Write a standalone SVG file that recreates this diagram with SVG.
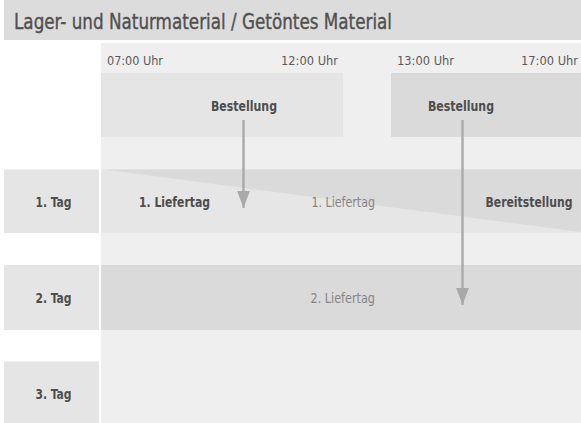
<svg xmlns="http://www.w3.org/2000/svg" width="581" height="423" viewBox="0 0 581 423">
  <style>
    text { font-family: "DejaVu Sans Condensed", "Liberation Sans", sans-serif; }
    .title { font-size: 20.5px; fill: #505050; stroke: #505050; stroke-width: 0.35px; }
    .time { font-size: 12.5px; fill: #5a5a5a; }
    .bold { font-size: 14.5px; font-weight: bold; fill: #4d4d4d; }
    .light { font-size: 14.5px; fill: #858585; }
    .lbl { font-size: 14.5px; font-weight: bold; fill: #4d4d4d; }
    .conn { stroke: #a9a9a9; stroke-width: 2.4; fill: none; }
  </style>
  <defs>
    <marker id="ah" markerUnits="userSpaceOnUse" markerWidth="18" markerHeight="14" viewBox="0 0 18 14" refX="17" refY="7" orient="auto">
      <path d="M0,0.6 L17,7 L0,13.4 Z" fill="#a9a9a9"/>
    </marker>
  </defs>
  <rect x="0" y="0" width="581" height="423" fill="#ffffff"/>

  <g id="title">
    <rect x="4" y="0" width="577" height="40" fill="#dcdcdc"/>
    <text class="title" x="14" y="28.5" textLength="378" lengthAdjust="spacingAndGlyphs">Lager- und Naturmaterial / Getöntes Material</text>
  </g>

  <g id="background">
    <rect x="101" y="43" width="480" height="380" fill="#efefef"/>
  </g>

  <g id="times">
    <text class="time" x="107" y="65" textLength="56" lengthAdjust="spacingAndGlyphs">07:00 Uhr</text>
    <text class="time" x="281" y="65" textLength="57" lengthAdjust="spacingAndGlyphs">12:00 Uhr</text>
    <text class="time" x="397" y="65" textLength="57" lengthAdjust="spacingAndGlyphs">13:00 Uhr</text>
    <text class="time" x="521" y="65" textLength="57" lengthAdjust="spacingAndGlyphs">17:00 Uhr</text>
  </g>

  <g id="bestellung1">
    <rect x="101" y="73" width="242" height="64" fill="#e5e5e5"/>
    <text class="bold" x="211" y="110.5" textLength="66" lengthAdjust="spacingAndGlyphs">Bestellung</text>
  </g>

  <g id="bestellung2">
    <rect x="391" y="73" width="190" height="64" fill="#dadada"/>
    <text class="bold" x="428" y="110.5" textLength="66" lengthAdjust="spacingAndGlyphs">Bestellung</text>
  </g>

  <g id="tag1">
    <rect x="4" y="169.5" width="95" height="63.5" fill="#e5e5e5"/>
    <text class="lbl" x="35.5" y="206.5" textLength="36" lengthAdjust="spacingAndGlyphs">1. Tag</text>
  </g>

  <g id="tag2">
    <rect x="4" y="265" width="95" height="65" fill="#e5e5e5"/>
    <text class="lbl" x="35.5" y="302.5" textLength="36" lengthAdjust="spacingAndGlyphs">2. Tag</text>
  </g>

  <g id="tag3">
    <rect x="4" y="361.5" width="95" height="61.5" fill="#e5e5e5"/>
    <text class="lbl" x="35.5" y="398.5" textLength="36" lengthAdjust="spacingAndGlyphs">3. Tag</text>
  </g>

  <g id="row1">
    <rect x="101" y="169.5" width="480" height="63.5" fill="#e6e6e6"/>
    <polygon points="104,169.5 581,169.5 581,232" fill="#dadada"/>
    <text class="bold" x="139" y="206.5" textLength="71" lengthAdjust="spacingAndGlyphs">1. Liefertag</text>
    <text class="light" x="311.5" y="206.5" textLength="63.5" lengthAdjust="spacingAndGlyphs">1. Liefertag</text>
    <text class="bold" x="485.5" y="206.5" textLength="87" lengthAdjust="spacingAndGlyphs">Bereitstellung</text>
  </g>

  <g id="row2">
    <rect x="101" y="265" width="480" height="65" fill="#dadada"/>
    <text class="light" x="310.5" y="302.5" textLength="64.5" lengthAdjust="spacingAndGlyphs">2. Liefertag</text>
  </g>

  <g id="connectors">
    <line class="conn" x1="243.5" y1="120" x2="243.5" y2="208" marker-end="url(#ah)"/>
    <line class="conn" x1="462.5" y1="120" x2="462.5" y2="305" marker-end="url(#ah)"/>
  </g>
</svg>
